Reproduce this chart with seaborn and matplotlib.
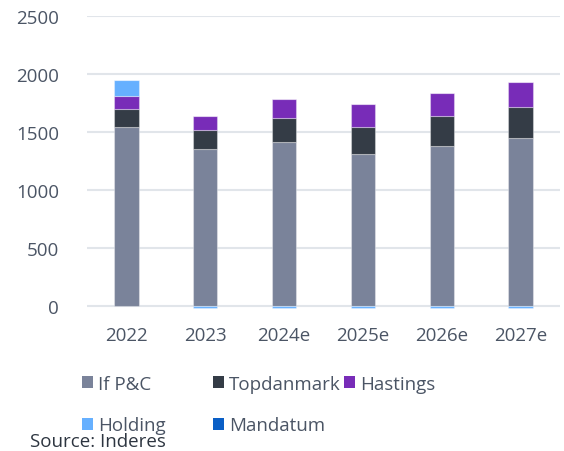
import matplotlib
matplotlib.use("Agg")
import matplotlib.pyplot as plt
from matplotlib.patches import Patch
import seaborn as sns
import numpy as np
import pandas as pd

categories = ["2022", "2023", "2024e", "2025e", "2026e", "2027e"]
if_pc = [1546, 1357, 1411, 1314, 1377, 1446]
topdanmark = [155, 157, 213, 229, 258, 270]
hastings = [107, 127, 164, 196, 205, 219]
holding = [146, -20, -20, -20, -20, -20]
mandatum = [0, 0, 0, 0, 0, 0]

series_names = ["If P&C", "Topdanmark", "Hastings", "Holding", "Mandatum"]
series_values = [if_pc, topdanmark, hastings, holding, mandatum]
colors = ["#7a839a", "#343c46", "#782cb8", "#66b0ff", "#0a5fc6"]

sns.set_theme(style="white")
plt.rcParams["font.family"] = ["Open Sans", "DejaVu Sans"]

fig = plt.figure(figsize=(5.64, 4.52), dpi=100)
ax = fig.add_axes([0.154, 0.3113, 0.839, 0.6504])

pos_bottom = np.zeros(len(categories))
neg_bottom = np.zeros(len(categories))
for name, vals, col in zip(series_names, series_values, colors):
    v = np.array(vals, dtype=float)
    bottom = np.where(v >= 0, pos_bottom, neg_bottom)
    df = pd.DataFrame({"cat": categories, "val": v})
    sns.barplot(data=df, x="cat", y="val", order=categories, color=col,
                bottom=bottom, width=0.31, ax=ax, saturation=1,
                edgecolor=(1, 1, 1, 0.35), linewidth=0.8, zorder=3)
    pos_bottom = pos_bottom + np.where(v >= 0, v, 0)
    neg_bottom = neg_bottom + np.where(v < 0, v, 0)

ax.set_ylim(-40, 2500)
ax.set_xlim(-0.5, 5.5)
ax.set_yticks([0, 500, 1000, 1500, 2000, 2500])
ax.yaxis.grid(True, color="#e1e5ea", linewidth=1.5, zorder=0)
ax.xaxis.grid(False)
for s in ax.spines.values():
    s.set_visible(False)
ax.set_xlabel("")
ax.set_ylabel("")
tick_col = "#4b5565"
ax.tick_params(axis="y", labelsize=13.5, colors=tick_col, length=0, pad=20)
ax.tick_params(axis="x", labelsize=13.5, colors=tick_col, length=0, pad=11)

# legend: three fixed-width columns
col_x = [82 / 564, 213 / 564, 344 / 564]
groups = [[0, 3], [1, 4], [2]]
for cx, idxs in zip(col_x, groups):
    handles = [Patch(facecolor=colors[i], edgecolor="none") for i in idxs]
    labels = [series_names[i] for i in idxs]
    leg = fig.legend(handles, labels, loc="upper left",
                     bbox_to_anchor=(cx, 1 - 376 / 452), frameon=False,
                     fontsize=13.5, handlelength=0.6, handleheight=0.6,
                     handletextpad=0.25, labelspacing=1.25, borderaxespad=0,
                     borderpad=0)
    for t in leg.get_texts():
        t.set_color(tick_col)

fig.text(30 / 564, 1 - 447 / 452, "Source: Inderes", fontsize=13.5,
         color="#2d3540", ha="left", va="baseline")

fig.savefig("out.png", dpi=100)
